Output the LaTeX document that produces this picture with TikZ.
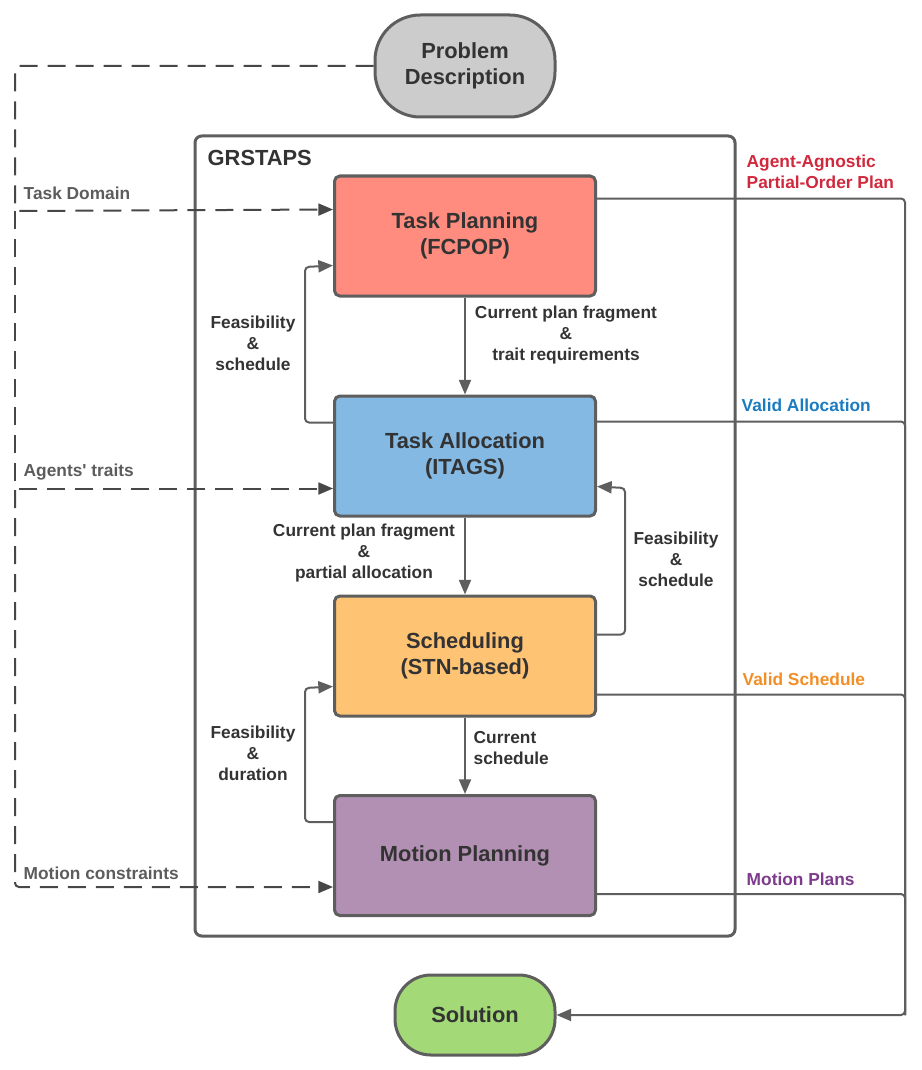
\documentclass[tikz,border=0pt]{standalone}
\usepackage{fontspec}
\setmainfont{Liberation Sans}
\usetikzlibrary{arrows.meta, calc}

\definecolor{edge}{HTML}{5E5E5E}
\definecolor{ink}{HTML}{333333}
\definecolor{dim}{HTML}{5C5C5C}
\definecolor{probfill}{HTML}{CCCCCC}
\definecolor{tpfill}{HTML}{FF8C7E}
\definecolor{tafill}{HTML}{83B9E3}
\definecolor{scfill}{HTML}{FFC374}
\definecolor{mpfill}{HTML}{B290B4}
\definecolor{solfill}{HTML}{A3D977}
\definecolor{outred}{HTML}{D0283C}
\definecolor{outblue}{HTML}{1C7BC0}
\definecolor{outorange}{HTML}{F28E26}
\definecolor{outpurple}{HTML}{7E3A8C}

\tikzset{
  block/.style={draw=edge, line width=2.25pt, rounded corners=4pt,
    minimum width=195.75pt, minimum height=90pt, align=center,
    text=ink, font=\fontsize{16.4}{20}\selectfont\bfseries},
  term/.style={block, rounded corners=34pt},
  lab/.style={align=center, text=ink, font=\fontsize{13}{15.75}\selectfont\bfseries},
  wire/.style={draw=edge, line width=1.5pt, rounded corners=3pt},
  arr/.style={wire, -{Triangle[length=11pt,width=9pt]}},
  dashin/.style={arr, draw=ink!90, dash pattern=on 13.5pt off 7.5pt},
}

\begin{document}
\begin{tikzpicture}[x=0.75pt, y=-0.75pt]
  \useasboundingbox (0,0) rectangle (921,1070);

  % outer GRSTAPS frame
  \draw[draw=edge, line width=2.25pt, rounded corners=5pt] (195,136) rectangle (735,936);
  \node[anchor=west, text=ink, font=\fontsize{16.4}{20}\selectfont\bfseries] (grstaps) at (203,158) {GRSTAPS};

  % blocks
  \node[term, fill=probfill, minimum width=135pt, minimum height=76.5pt] (prob) at (465,66) {Problem\\Description};
  \node[block, fill=tpfill] (tp) at (465,236) {Task Planning\\(FCPOP)};
  \node[block, fill=tafill] (ta) at (465,456) {Task Allocation\\(ITAGS)};
  \node[block, fill=scfill] (sc) at (465,656) {Scheduling\\(STN-based)};
  \node[block, fill=mpfill] (mp) at (465,855.5) {Motion Planning};
  \node[term, fill=solfill, minimum width=120pt, minimum height=60pt, rounded corners=27pt] (sol) at (475,1015) {Solution};

  % inputs from the problem description
  \coordinate (tpIn) at ($(tp.north west)+(0,35)$);
  \coordinate (taIn) at ($(ta.north west)+(0,94)$);
  \coordinate (mpIn) at ($(mp.north west)+(0,93)$);
  \draw[dashin] (prob.west) -| (15,211) -- (tpIn);
  \draw[dashin] (15,211) |- (taIn);
  \draw[dashin] (15,490) |- (mpIn);
  \node[anchor=west, text=dim, font=\fontsize{13}{15.75}\selectfont\bfseries] (dom) at (19,193) {Task Domain};
  \node[anchor=west, text=dim, font=\fontsize{13}{15.75}\selectfont\bfseries] (traits) at (19,472) {Agents\textquotesingle{} traits};
  \node[anchor=west, text=dim, font=\fontsize{13}{15.75}\selectfont\bfseries] (cons) at (19,873) {Motion constraints};

  % downward flow
  \draw[arr] (tp.south) -- (ta.north);
  \draw[arr] (ta.south) -- (sc.north);
  \draw[arr] (sc.south) -- (mp.north);
  \node[lab] (l1) at (566,335) {Current plan fragment\\\&\\trait requirements};
  \node[lab] (l2) at (364,553) {Current plan fragment\\\&\\partial allocation};
  \node[lab, align=left, anchor=west] (l3) at (469,748) {Current\\schedule};

  % feedback loops
  \draw[arr] ($(ta.north west)+(0,28)$) -| (305,267) -- ($(tp.north west)+(0,91)$);
  \draw[arr] ($(sc.north east)+(0,40)$) -| (625,488) -- ($(ta.north east)+(0,92)$);
  \draw[arr] ($(mp.north west)+(0,28)$) -| (305,688) -- ($(sc.north west)+(0,92)$);
  \node[lab] (f1) at (253,343) {Feasibility\\\&\\schedule};
  \node[lab] (f2) at (676,559) {Feasibility\\\&\\schedule};
  \node[lab] (f3) at (253,753) {Feasibility\\\&\\duration};

  % outputs to the solution
  \draw[arr] ($(tp.north east)+(0,24)$) -| (905,1015) -- (sol.east);
  \draw[wire] ($(ta.north east)+(0,27)$) -| (905,1015);
  \draw[wire] ($(sc.north east)+(0,100)$) -| (905,1015);
  \draw[wire] ($(mp.north east)+(0,100)$) -| (905,1015);
  \node[lab, align=left, anchor=west, text=outred] (o1) at (742,172) {Agent-Agnostic\\Partial-Order Plan};
  \node[lab, anchor=west, text=outblue] (o2) at (737,405) {Valid Allocation};
  \node[lab, anchor=west, text=outorange] (o3) at (738,679) {Valid Schedule};
  \node[lab, anchor=west, text=outpurple] (o4) at (742,879) {Motion Plans};
\end{tikzpicture}
\end{document}
